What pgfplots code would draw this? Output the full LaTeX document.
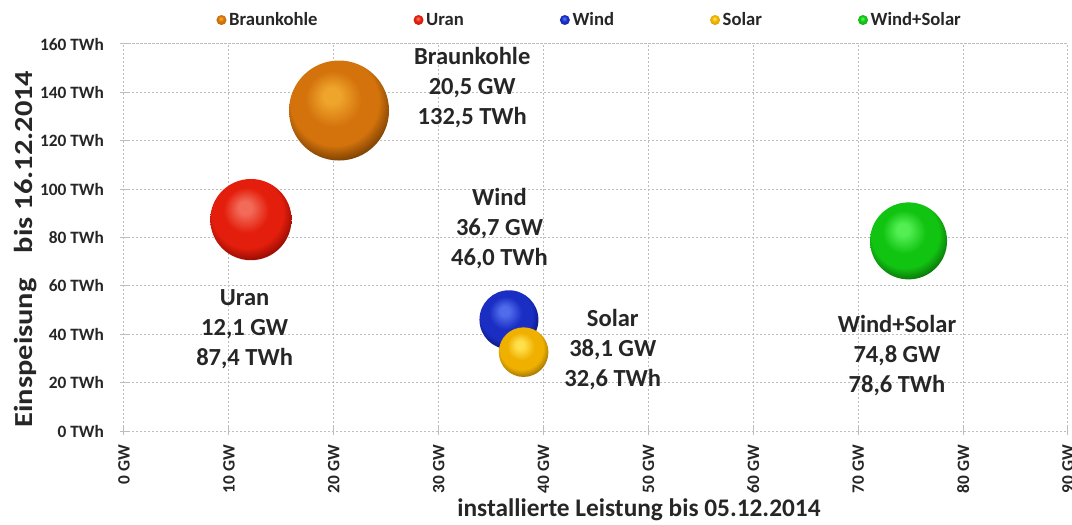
\documentclass[border=0pt]{standalone}
\usepackage{fontspec}
\setmainfont{Carlito}
\usepackage{graphicx}
\usepackage{pgfplots}
\pgfplotsset{compat=1.18}

% sphere colours: highlight, body, shadowed rim
\definecolor{braunHi}{HTML}{EFA52C}
\definecolor{braunBody}{HTML}{D4730C}
\definecolor{braunEdge}{HTML}{5E3000}
\definecolor{uranHi}{HTML}{F26A58}
\definecolor{uranBody}{HTML}{E41E0C}
\definecolor{uranEdge}{HTML}{7A0600}
\definecolor{windHi}{HTML}{4F6CEA}
\definecolor{windBody}{HTML}{1A2EC4}
\definecolor{windEdge}{HTML}{080F5E}
\definecolor{solarHi}{HTML}{FFE04A}
\definecolor{solarBody}{HTML}{EFB000}
\definecolor{solarEdge}{HTML}{876000}
\definecolor{wsHi}{HTML}{52EE52}
\definecolor{wsBody}{HTML}{12C412}
\definecolor{wsEdge}{HTML}{075C07}
\definecolor{txt}{HTML}{262626}
\definecolor{gridc}{HTML}{BDBDBD}

% a shaded sphere used as plot mark
\newcommand\makesphere[4]{%
  \pgfdeclareradialshading{sph#1}{\pgfqpoint{-4bp}{8bp}}{%
    color(0bp)=(#2); color(4bp)=(#2); color(14bp)=(#3); color(22bp)=(#3);
    color(31bp)=(#4); color(50bp)=(#4)}%
  \pgfdeclareplotmark{sph#1}{%
    \pgfpathcircle{\pgfpointorigin}{\pgfplotmarksize}%
    \pgfshadepath{sph#1}{0}\pgfusepath{}}}
\makesphere{Braun}{braunHi}{braunBody}{braunEdge}
\makesphere{Uran}{uranHi}{uranBody}{uranEdge}
\makesphere{Wind}{windHi}{windBody}{windEdge}
\makesphere{Solar}{solarHi}{solarBody}{solarEdge}
\makesphere{WS}{wsHi}{wsBody}{wsEdge}

% bubble radius grows with the square root of the energy fed in
\pgfplotsset{
  bubble/.style={
    scatter, only marks, forget plot, mark=#1,
    point meta=\thisrow{twh},
    visualization depends on={3.258*sqrt(\thisrow{twh}) \as \bubr},
    scatter/@pre marker code/.append style={/tikz/mark size=\bubr},
  },
}
\tikzset{
  lbl/.style={align=center, text=txt,
    font=\fontsize{18.4}{22.5}\selectfont\bfseries},
}

\begin{document}
\begin{tikzpicture}
\useasboundingbox (-93pt,-70.5pt) rectangle (711pt,323.25pt);
\begin{axis}[
  at={(0,0)}, anchor=south west,
  scale only axis, width=708pt, height=290.25pt,
  xmin=0, xmax=90, ymin=0, ymax=160,
  xtick={0,10,...,90}, ytick={0,20,...,160},
  point meta min=0, point meta max=200,
  xticklabel={\pgfmathprintnumber[assume math mode=true]{\tick}~GW},
  yticklabel={\pgfmathprintnumber[assume math mode=true]{\tick}~TWh},
  grid=major,
  major grid style={gridc, line width=0.75pt, dash pattern=on 1.5pt off 1.5pt},
  axis line style={gridc, line width=0.75pt, dash pattern=on 1.5pt off 1.5pt},
  tick style={gridc, line width=0.75pt, solid},
  major tick length=6pt, tick align=center, tick pos=left,
  ticklabel style={font=\fontsize{13}{15}\selectfont\bfseries, text=txt},
  xticklabel style={rotate=90, anchor=east},
  xticklabel shift=4pt,
  yticklabel shift=8.5pt,
  xlabel={installierte Leistung bis 05.12.2014},
  xlabel style={at={(axis description cs:0.5455,-0.204)}, anchor=center,
    font=\fontsize{19}{22}\selectfont\bfseries, text=txt},
  ylabel={\scalebox{1.17}[1]{Einspeisung\hspace{0.6em} bis 16.12.2014}},
  ylabel style={at={(axis description cs:-0.1038,0.47)}, anchor=center,
    font=\fontsize{19.5}{22}\selectfont\bfseries, text=txt},
  legend columns=-1,
  legend style={draw=none, fill=none, at={(0.5,1)}, anchor=center,
    yshift=18pt, xshift=-4.5pt,
    font=\fontsize{14}{16}\selectfont\bfseries, text=txt,
    /tikz/every even column/.append style={column sep=70pt}},
  legend image code/.code={\draw[#1] plot coordinates {(0pt,0pt)};},
]
\addlegendimage{only marks, mark=sphBraun, mark size=3.75pt}
\addlegendentry{Braunkohle}
\addlegendimage{only marks, mark=sphUran, mark size=3.75pt}
\addlegendentry{Uran}
\addlegendimage{only marks, mark=sphWind, mark size=3.75pt}
\addlegendentry{Wind}
\addlegendimage{only marks, mark=sphSolar, mark size=3.75pt}
\addlegendentry{Solar}
\addlegendimage{only marks, mark=sphWS, mark size=3.75pt}
\addlegendentry{Wind+Solar}

\addplot[bubble=sphBraun] table[x=gw, y=twh] {
gw   twh
20.5 132.5
};
\addplot[bubble=sphUran] table[x=gw, y=twh] {
gw   twh
12.1 87.4
};
\addplot[bubble=sphWind] table[x=gw, y=twh] {
gw   twh
36.7 46.0
};
\addplot[bubble=sphSolar] table[x=gw, y=twh] {
gw   twh
38.1 32.6
};
\addplot[bubble=sphWS] table[x=gw, y=twh] {
gw   twh
74.8 78.6
};

\node[lbl] at (axis cs:33.2,142.2) {Braunkohle\\20,5 GW\\132,5 TWh};
\node[lbl] at (axis cs:11.5,42.2) {Uran\\12,1 GW\\87,4 TWh};
\node[lbl] at (axis cs:35.8,83.9) {Wind\\36,7 GW\\46,0 TWh};
\node[lbl] at (axis cs:46.6,33.5) {Solar\\38,1 GW\\32,6 TWh};
\node[lbl] at (axis cs:73.7,31.0) {Wind+Solar\\74,8 GW\\78,6 TWh};
\end{axis}
\end{tikzpicture}
\end{document}
